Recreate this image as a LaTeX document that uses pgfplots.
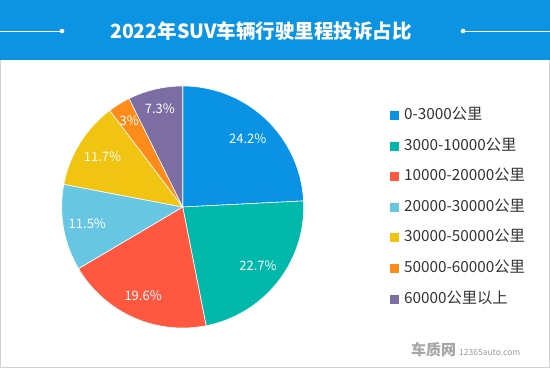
\documentclass[border=0pt]{standalone}
\usepackage{pgfplots}
\pgfplotsset{compat=1.18}
\usepackage{fontspec}
\setmainfont{Noto Sans CJK SC}
\definecolor{barblue}{RGB}{8,146,226}
\definecolor{cA}{RGB}{10,147,228}
\definecolor{cB}{RGB}{0,185,170}
\definecolor{cC}{RGB}{255,87,64}
\definecolor{cD}{RGB}{103,199,227}
\definecolor{cE}{RGB}{241,196,18}
\definecolor{cF}{RGB}{255,140,26}
\definecolor{cG}{RGB}{124,110,162}
\definecolor{txt}{RGB}{51,51,51}
\definecolor{frame}{RGB}{210,210,210}
% slice values (percent)
\def\vA{24.2}\def\vB{22.7}\def\vC{19.6}\def\vD{11.5}\def\vE{11.7}\def\vF{3}\def\vG{7.3}
\pgfmathsetmacro\aA{90}
\pgfmathsetmacro\aB{\aA-3.6*\vA}
\pgfmathsetmacro\aC{\aB-3.6*\vB}
\pgfmathsetmacro\aD{\aC-3.6*\vC}
\pgfmathsetmacro\aE{\aD-3.6*\vD}
\pgfmathsetmacro\aF{\aE-3.6*\vE}
\pgfmathsetmacro\aG{\aF-3.6*\vF}
\pgfmathsetmacro\aH{\aG-3.6*\vG}
\begin{document}
\begin{tikzpicture}[x=1pt,y=1pt]
\path[use as bounding box] (0,0) rectangle (550,-368);
\fill[white] (0,0) rectangle (550,-368);
\draw[frame, line width=1pt] (0.5,-0.5) rectangle (549.5,-367.5);
\fill[barblue] (0,0) rectangle (550,-60);
\begin{scope}
\clip (0,0) rectangle (550,-60);
\foreach \i in {-80,-76,...,560} {\draw[white, opacity=0.05, line width=1pt] (\i,-60) -- (\i+60,0);}
\end{scope}
\draw[white, line width=1pt] (0,-31) -- (62,-31);
\fill[white] (62,-31) circle (2.3);
\draw[white, line width=1pt] (463,-31) -- (550,-31);
\fill[white] (463,-31) circle (2.3);
\node[white, font=\fontsize{19.5}{20}\selectfont\bfseries] at (261,-31) {2022年SUV车辆行驶里程投诉占比};
\begin{axis}[
  at={(182.7pt,-207pt)}, anchor=center,
  width=242pt, height=242pt, scale only axis,
  xmin=-1, xmax=1, ymin=-1, ymax=1,
  hide axis, clip=false,
  legend cell align=left,
  legend image code/.code={\fill[#1, draw=none] (0pt,-4.5pt) rectangle (9pt,4.5pt);},
  legend style={at={(1.357,0.905)}, anchor=north west, draw=none, fill=none,
    inner sep=0pt, outer sep=0pt, row sep=17.6pt, column sep=5pt,
    nodes={inner sep=0pt, outer sep=0pt, text height=10.5pt, text depth=2.5pt,
      font=\fontsize{15.3}{16}\selectfont, text=txt}},
]
\addplot[fill=cA, draw=white, line width=0.6pt, domain=\aB:\aA, samples=60, variable=\t] ({cos(\t)},{sin(\t)}) -- (axis cs:0,0) -- cycle;
\addlegendentry{0-3000公里}
\addplot[fill=cB, draw=white, line width=0.6pt, domain=\aC:\aB, samples=60, variable=\t] ({cos(\t)},{sin(\t)}) -- (axis cs:0,0) -- cycle;
\addlegendentry{3000-10000公里}
\addplot[fill=cC, draw=white, line width=0.6pt, domain=\aD:\aC, samples=60, variable=\t] ({cos(\t)},{sin(\t)}) -- (axis cs:0,0) -- cycle;
\addlegendentry{10000-20000公里}
\addplot[fill=cD, draw=white, line width=0.6pt, domain=\aE:\aD, samples=40, variable=\t] ({cos(\t)},{sin(\t)}) -- (axis cs:0,0) -- cycle;
\addlegendentry{20000-30000公里}
\addplot[fill=cE, draw=white, line width=0.6pt, domain=\aF:\aE, samples=40, variable=\t] ({cos(\t)},{sin(\t)}) -- (axis cs:0,0) -- cycle;
\addlegendentry{30000-50000公里}
\addplot[fill=cF, draw=white, line width=0.6pt, domain=\aG:\aF, samples=20, variable=\t] ({cos(\t)},{sin(\t)}) -- (axis cs:0,0) -- cycle;
\addlegendentry{50000-60000公里}
\addplot[fill=cG, draw=white, line width=0.6pt, domain=\aH:\aG, samples=30, variable=\t] ({cos(\t)},{sin(\t)}) -- (axis cs:0,0) -- cycle;
\addlegendentry{60000公里以上}
\tikzset{lab/.style={white, font=\fontsize{13}{13}\selectfont}}
\node[lab] at (axis cs:{0.78*cos((\aA+\aB)/2)},{0.78*sin((\aA+\aB)/2)}) {\vA\%};
\node[lab] at (axis cs:{0.79*cos((\aB+\aC)/2)},{0.79*sin((\aB+\aC)/2)}) {\vB\%};
\node[lab] at (axis cs:{0.80*cos((\aC+\aD)/2)},{0.80*sin((\aC+\aD)/2)}) {\vC\%};
\node[lab] at (axis cs:{0.80*cos((\aD+\aE)/2)},{0.80*sin((\aD+\aE)/2)}) {\vD\%};
\node[lab] at (axis cs:{0.78*cos((\aE+\aF)/2)},{0.78*sin((\aE+\aF)/2)}) {\vE\%};
\node[lab] at (axis cs:{0.84*cos((\aF+\aG)/2)},{0.84*sin((\aF+\aG)/2)}) {\vF\%};
\node[lab] at (axis cs:{0.83*cos((\aG+\aH)/2)},{0.83*sin((\aG+\aH)/2)}) {\vG\%};
\end{axis}
\node[anchor=west, text=gray!70, font=\fontsize{15}{15}\selectfont\bfseries, inner sep=0pt] at (411,-350) {车质网};
\node[anchor=west, text=gray!80, font=\fontsize{8.5}{9}\selectfont, inner sep=0pt] at (459,-352) {12365auto.com};
\end{tikzpicture}
\end{document}
